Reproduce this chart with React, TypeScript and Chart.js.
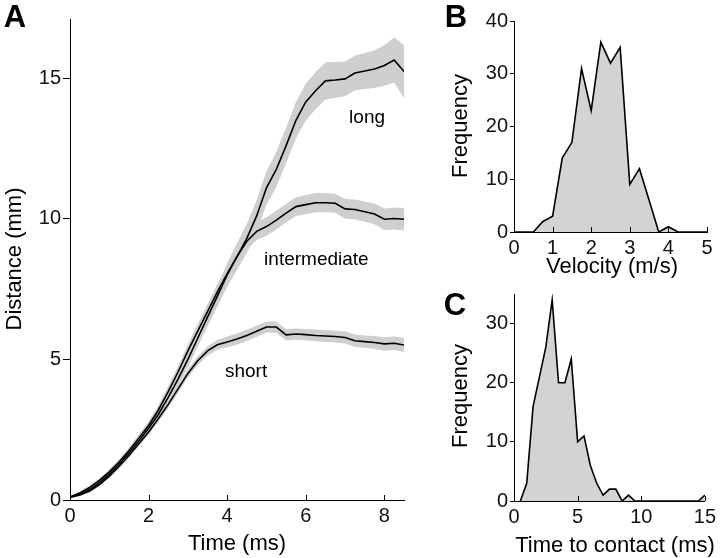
import React, { useEffect, useRef } from "react";
import { Chart, registerables } from "chart.js";

Chart.register(...registerables);

const FONT = "'Liberation Sans', Arial, Helvetica, sans-serif";

// ---------- Panel A data ----------
const timeMs = [0, 0.25, 0.5, 0.75, 1, 1.25, 1.5, 1.75, 2, 2.25, 2.5, 2.75, 3, 3.25, 3.5, 3.75, 4, 4.25, 4.5, 4.75, 5, 5.25, 5.5, 5.75, 6, 6.25, 6.5, 6.75, 7, 7.25, 7.5, 7.75, 8, 8.25, 8.5];
const shortMean = [0.1, 0.18, 0.32, 0.55, 0.85, 1.2, 1.58, 2.0, 2.42, 2.9, 3.4, 3.95, 4.5, 4.95, 5.3, 5.52, 5.62, 5.72, 5.85, 6.0, 6.15, 6.15, 5.87, 5.9, 5.88, 5.85, 5.83, 5.81, 5.78, 5.66, 5.63, 5.6, 5.55, 5.57, 5.51];
const shortSd = [0.04, 0.04, 0.05, 0.06, 0.07, 0.08, 0.09, 0.1, 0.11, 0.12, 0.13, 0.14, 0.15, 0.16, 0.17, 0.18, 0.19, 0.2, 0.2, 0.2, 0.2, 0.2, 0.2, 0.2, 0.2, 0.21, 0.21, 0.21, 0.22, 0.22, 0.22, 0.23, 0.24, 0.24, 0.25];
const intermediateMean = [0.1, 0.25, 0.45, 0.7, 1.0, 1.35, 1.75, 2.2, 2.65, 3.2, 3.85, 4.55, 5.3, 6.0, 6.7, 7.4, 8.05, 8.65, 9.2, 9.55, 9.72, 9.95, 10.2, 10.43, 10.5, 10.57, 10.57, 10.55, 10.35, 10.33, 10.25, 10.17, 9.98, 10.01, 9.98];
const intermediateSd = [0.05, 0.05, 0.06, 0.07, 0.08, 0.1, 0.11, 0.13, 0.15, 0.17, 0.19, 0.21, 0.23, 0.25, 0.27, 0.28, 0.29, 0.3, 0.31, 0.32, 0.33, 0.33, 0.33, 0.33, 0.34, 0.34, 0.34, 0.34, 0.35, 0.35, 0.36, 0.37, 0.38, 0.39, 0.4];
const longMean = [0.1, 0.2, 0.38, 0.62, 0.92, 1.27, 1.67, 2.1, 2.55, 3.05, 3.65, 4.3, 5.0, 5.75, 6.5, 7.25, 8.0, 8.65, 9.3, 10.1, 11.1, 11.75, 12.6, 13.5, 14.15, 14.55, 14.9, 14.93, 14.97, 15.18, 15.25, 15.32, 15.45, 15.64, 15.23];
const longSd = [0.05, 0.05, 0.07, 0.08, 0.1, 0.12, 0.14, 0.16, 0.18, 0.2, 0.22, 0.25, 0.28, 0.3, 0.33, 0.38, 0.42, 0.47, 0.52, 0.56, 0.6, 0.62, 0.64, 0.65, 0.66, 0.66, 0.66, 0.64, 0.62, 0.62, 0.64, 0.67, 0.72, 0.8, 0.95];

// ---------- Panel B data ----------
const velocityBins = [0, 0.25, 0.5, 0.75, 1, 1.25, 1.5, 1.75, 2, 2.25, 2.5, 2.75, 3, 3.25, 3.5, 3.75, 4, 4.25, 4.5, 4.75, 5];
const velocityCounts = [0, 0, 0, 2, 3, 14, 17, 31, 23, 36, 32, 35, 9, 12, 6, 0, 1, 0, 0, 0, 0];

// ---------- Panel C data ----------
const contactBins = [0.5, 1, 1.5, 2, 2.5, 3, 3.5, 4, 4.5, 5, 5.5, 6, 6.5, 7, 7.5, 8, 8.5, 9, 9.5, 10, 10.5, 11, 11.5, 12, 12.5, 13, 13.5, 14, 14.5, 15];
const contactCounts = [0, 3, 16, 21, 26, 34, 20, 20, 24, 10, 11, 6, 3, 1, 2, 2, 0, 1, 0, 0, 0, 0, 0, 0, 0, 0, 0, 0, 0, 1];

type Txt = { text: string; x: number; y: number; size: number; bold?: boolean; rotate?: boolean; data?: boolean };

function decorPlugin(texts: Txt[]) {
  return {
    id: "decor",
    afterDraw(chart: any) {
      const ctx = chart.ctx as CanvasRenderingContext2D;
      const xs = chart.scales.x;
      const ys = chart.scales.y;
      ctx.save();
      ctx.strokeStyle = "#000";
      ctx.lineWidth = 1;
      xs.ticks.forEach((t: any) => {
        const px = Math.round(xs.getPixelForValue(t.value)) + 0.5;
        ctx.beginPath();
        ctx.moveTo(px, xs.top);
        ctx.lineTo(px, xs.top - 5);
        ctx.stroke();
      });
      ctx.fillStyle = "#000";
      ctx.textAlign = "center";
      ctx.textBaseline = "middle";
      texts.forEach((t) => {
        ctx.font = `${t.bold ? "bold " : ""}${t.size}px ${FONT}`;
        const x = t.data ? xs.getPixelForValue(t.x) : t.x;
        const y = t.data ? ys.getPixelForValue(t.y) : t.y;
        if (t.rotate) {
          ctx.save();
          ctx.translate(x, y);
          ctx.rotate(-Math.PI / 2);
          ctx.fillText(t.text, 0, 0);
          ctx.restore();
        } else {
          ctx.fillText(t.text, x, y);
        }
      });
      ctx.restore();
    },
  };
}

function axes(xMin: number, xMax: number, xStep: number, yMin: number, yMax: number, yStep: number, yWidth: number, xHeight: number, yTick: number) {
  return {
    x: {
      type: "linear",
      min: xMin,
      max: xMax,
      border: { display: true, color: "#000", width: 1 },
      grid: { display: true, drawOnChartArea: false, drawTicks: false },
      ticks: { stepSize: xStep, includeBounds: false, color: "#111", font: { family: FONT, size: 20 }, padding: 4, maxRotation: 0 },
      afterFit: (s: any) => { s.height = xHeight; },
    },
    y: {
      type: "linear",
      min: yMin,
      max: yMax,
      border: { display: true, color: "#000", width: 1 },
      grid: { display: true, drawOnChartArea: false, drawTicks: true, tickLength: yTick, color: "#000" },
      ticks: { stepSize: yStep, includeBounds: false, color: "#111", font: { family: FONT, size: 20 }, padding: 2 },
      afterFit: (s: any) => { s.width = yWidth; },
    },
  };
}

const BAND = "#cfcfcf";
const HIST = "#d3d3d3";

function pts(xs: number[], ys: number[]) {
  return xs.map((x, i) => ({ x, y: ys[i] }));
}

function bandSets(mean: number[], sd: number[]) {
  const upper = mean.map((m, i) => m + sd[i]);
  const lower = mean.map((m, i) => m - sd[i]);
  return [
    { data: pts(timeMs, upper), borderWidth: 0, pointRadius: 0, fill: false, order: 1, borderColor: "rgba(0,0,0,0)" },
    { data: pts(timeMs, lower), borderWidth: 0, pointRadius: 0, fill: "-1", backgroundColor: BAND, order: 1, borderColor: "rgba(0,0,0,0)" },
  ];
}

function lineSet(mean: number[]) {
  return { data: pts(timeMs, mean), borderColor: "#000", borderWidth: 1.6, pointRadius: 0, fill: false, order: 0, tension: 0 };
}

function configA(): any {
  return {
    type: "line",
    data: {
      datasets: [
        lineSet(longMean),
        lineSet(intermediateMean),
        lineSet(shortMean),
        ...bandSets(longMean, longSd),
        ...bandSets(intermediateMean, intermediateSd),
        ...bandSets(shortMean, shortSd),
      ],
    },
    options: {
      animation: false,
      responsive: false,
      events: [],
      layout: { padding: { left: 0, top: 19, right: 26, bottom: 0 } },
      plugins: { legend: { display: false }, tooltip: { enabled: false } },
      scales: axes(0, 8.5, 2, 0, 17.1, 5, 70, 58, 7),
    },
    plugins: [
      decorPlugin([
        { text: "A", x: 15, y: 18, size: 31, bold: true },
        { text: "Time (ms)", x: 237, y: 544, size: 22 },
        { text: "Distance (mm)", x: 15, y: 259, size: 22, rotate: true },
        { text: "long", x: 7.56, y: 13.6, size: 19, data: true },
        { text: "intermediate", x: 6.27, y: 8.53, size: 19, data: true },
        { text: "short", x: 4.48, y: 4.55, size: 19, data: true },
      ]),
    ],
  };
}

function configHist(bins: number[], counts: number[], opts: any): any {
  return {
    type: "line",
    data: {
      datasets: [
        { data: pts(bins, counts), borderColor: "#000", borderWidth: 1.6, backgroundColor: HIST, fill: "origin", pointRadius: 0, tension: 0 },
      ],
    },
    options: {
      animation: false,
      responsive: false,
      events: [],
      layout: { padding: opts.padding },
      plugins: { legend: { display: false }, tooltip: { enabled: false } },
      scales: opts.scales,
    },
    plugins: [decorPlugin(opts.texts)],
  };
}

function configB(): any {
  return configHist(velocityBins, velocityCounts, {
    padding: { left: 0, top: 21, right: 13, bottom: 0 },
    scales: axes(0, 5, 1, 0, 40, 10, 84, 48, 4),
    texts: [
      { text: "B", x: 26, y: 18, size: 31, bold: true },
      { text: "Velocity (m/s)", x: 182, y: 267, size: 22 },
      { text: "Frequency", x: 31, y: 126, size: 22, rotate: true },
    ],
  });
}

function configC(): any {
  return configHist(contactBins, contactCounts, {
    padding: { left: 0, top: 10, right: 12, bottom: 0 },
    scales: axes(0, 15, 5, 0, 35, 10, 84, 57, 4),
    texts: [
      { text: "C", x: 25, y: 26, size: 31, bold: true },
      { text: "Time to contact (ms)", x: 185, y: 266, size: 22 },
      { text: "Frequency", x: 31, y: 116, size: 22, rotate: true },
    ],
  });
}

function ChartBox({ make, left, top, width, height }: { make: () => any; left: number; top: number; width: number; height: number }) {
  const ref = useRef<HTMLCanvasElement>(null);
  useEffect(() => {
    const chart = new Chart(ref.current as HTMLCanvasElement, make());
    return () => chart.destroy();
  }, []);
  return (
    <canvas
      ref={ref}
      width={width}
      height={height}
      style={{ position: "absolute", left, top, width, height, display: "block" }}
    />
  );
}

export default function App() {
  return (
    <div style={{ position: "absolute", left: 0, top: 0, width: 720, height: 558, background: "#fff", overflow: "hidden" }}>
      <ChartBox make={configA} left={0} top={0} width={430} height={558} />
      <ChartBox make={configB} left={430} top={0} width={290} height={280} />
      <ChartBox make={configC} left={430} top={280} width={290} height={278} />
    </div>
  );
}
